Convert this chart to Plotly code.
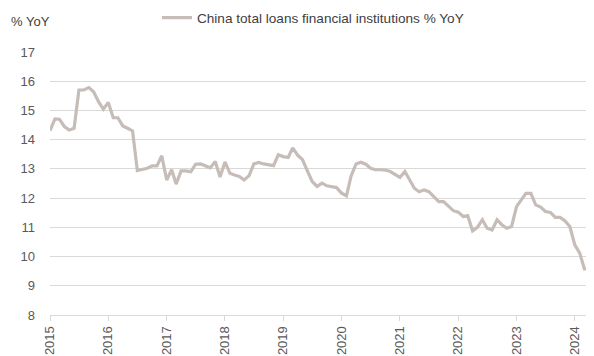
import pandas as pd
import plotly.graph_objects as go

# Monthly values Jan 2015 .. Apr 2024 (% YoY)
start_month = "2015-01-01"
values_2015 = [14.31, 14.71, 14.70, 14.45, 14.33, 14.39, 15.70, 15.70, 15.78, 15.64, 15.30, 15.04]
values_2016 = [15.27, 14.75, 14.75, 14.47, 14.39, 14.30, 12.94, 12.97, 13.02, 13.10, 13.10, 13.45]
values_2017 = [12.62, 12.97, 12.48, 12.93, 12.93, 12.90, 13.16, 13.17, 13.10, 13.04, 13.25, 12.72]
values_2018 = [13.24, 12.85, 12.79, 12.74, 12.62, 12.77, 13.17, 13.22, 13.17, 13.14, 13.11, 13.48]
values_2019 = [13.42, 13.39, 13.72, 13.47, 13.32, 12.93, 12.57, 12.40, 12.51, 12.42, 12.39, 12.36]
values_2020 = [12.17, 12.08, 12.76, 13.17, 13.23, 13.16, 13.02, 12.97, 12.97, 12.96, 12.91, 12.82]
values_2021 = [12.71, 12.91, 12.65, 12.34, 12.22, 12.28, 12.22, 12.05, 11.88, 11.88, 11.71, 11.57]
values_2022 = [11.52, 11.37, 11.40, 10.88, 11.00, 11.26, 10.97, 10.91, 11.26, 11.09, 10.97, 11.03]
values_2023 = [11.71, 11.94, 12.16, 12.16, 11.77, 11.69, 11.54, 11.51, 11.34, 11.34, 11.22, 11.03]
values_2024 = [10.40, 10.12, 9.58, 9.58]

values = (values_2015 + values_2016 + values_2017 + values_2018 + values_2019 +
          values_2020 + values_2021 + values_2022 + values_2023 + values_2024)
dates = pd.date_range(start_month, periods=len(values), freq="MS")

series_name = "China total loans financial institutions % YoY"
y_title = "% YoY"
y_ticks = [8, 9, 10, 11, 12, 13, 14, 15, 16, 17]
x_ticks = [f"{y}-01-01" for y in range(2015, 2025)]
x_tick_labels = [str(y) for y in range(2015, 2025)]

LINE = "#c6bdb9"
GRID = "#d9d9d9"
TXT = "#595959"
FONT = "Liberation Sans"

fig = go.Figure()
fig.add_trace(go.Scatter(
    x=dates, y=values, mode="lines", name=series_name,
    line=dict(color=LINE, width=3.2),
))

# page body has an 8px margin, so the figure is drawn 8px in from the top-left
fig.update_layout(
    width=586, height=348,
    margin=dict(l=42, r=1, t=44, b=41, autoexpand=False),
    paper_bgcolor="white", plot_bgcolor="white",
    font=dict(family=FONT, size=13, color=TXT),
    showlegend=True,
    legend=dict(
        orientation="h", x=0.197, y=1.13, xanchor="left", yanchor="middle",
        font=dict(family=FONT, size=13.6, color="#404040"),
        bgcolor="rgba(0,0,0,0)", itemwidth=30,
    ),
    xaxis=dict(
        type="date",
        range=["2015-01-01", "2024-04-24"],
        tickvals=x_ticks, ticktext=x_tick_labels,
        tickangle=-90,
        showgrid=False, zeroline=False,
        showline=True, linecolor=GRID, linewidth=1,
        ticks="outside", ticklen=5, tickcolor=GRID,
        tickfont=dict(family=FONT, size=13, color=TXT),
    ),
    yaxis=dict(
        range=[8, 17], tickvals=y_ticks,
        showgrid=True, gridcolor=GRID, gridwidth=1,
        zeroline=False, showline=False,
        ticks="", ticklabelstandoff=14,
        tickfont=dict(family=FONT, size=13, color=TXT),
    ),
    annotations=[dict(
        text=y_title, xref="paper", yref="paper",
        x=-0.075, y=1.115, xanchor="left", yanchor="middle",
        showarrow=False, font=dict(family=FONT, size=13, color="#404040"),
    )],
)

fig.write_html("out.html")
